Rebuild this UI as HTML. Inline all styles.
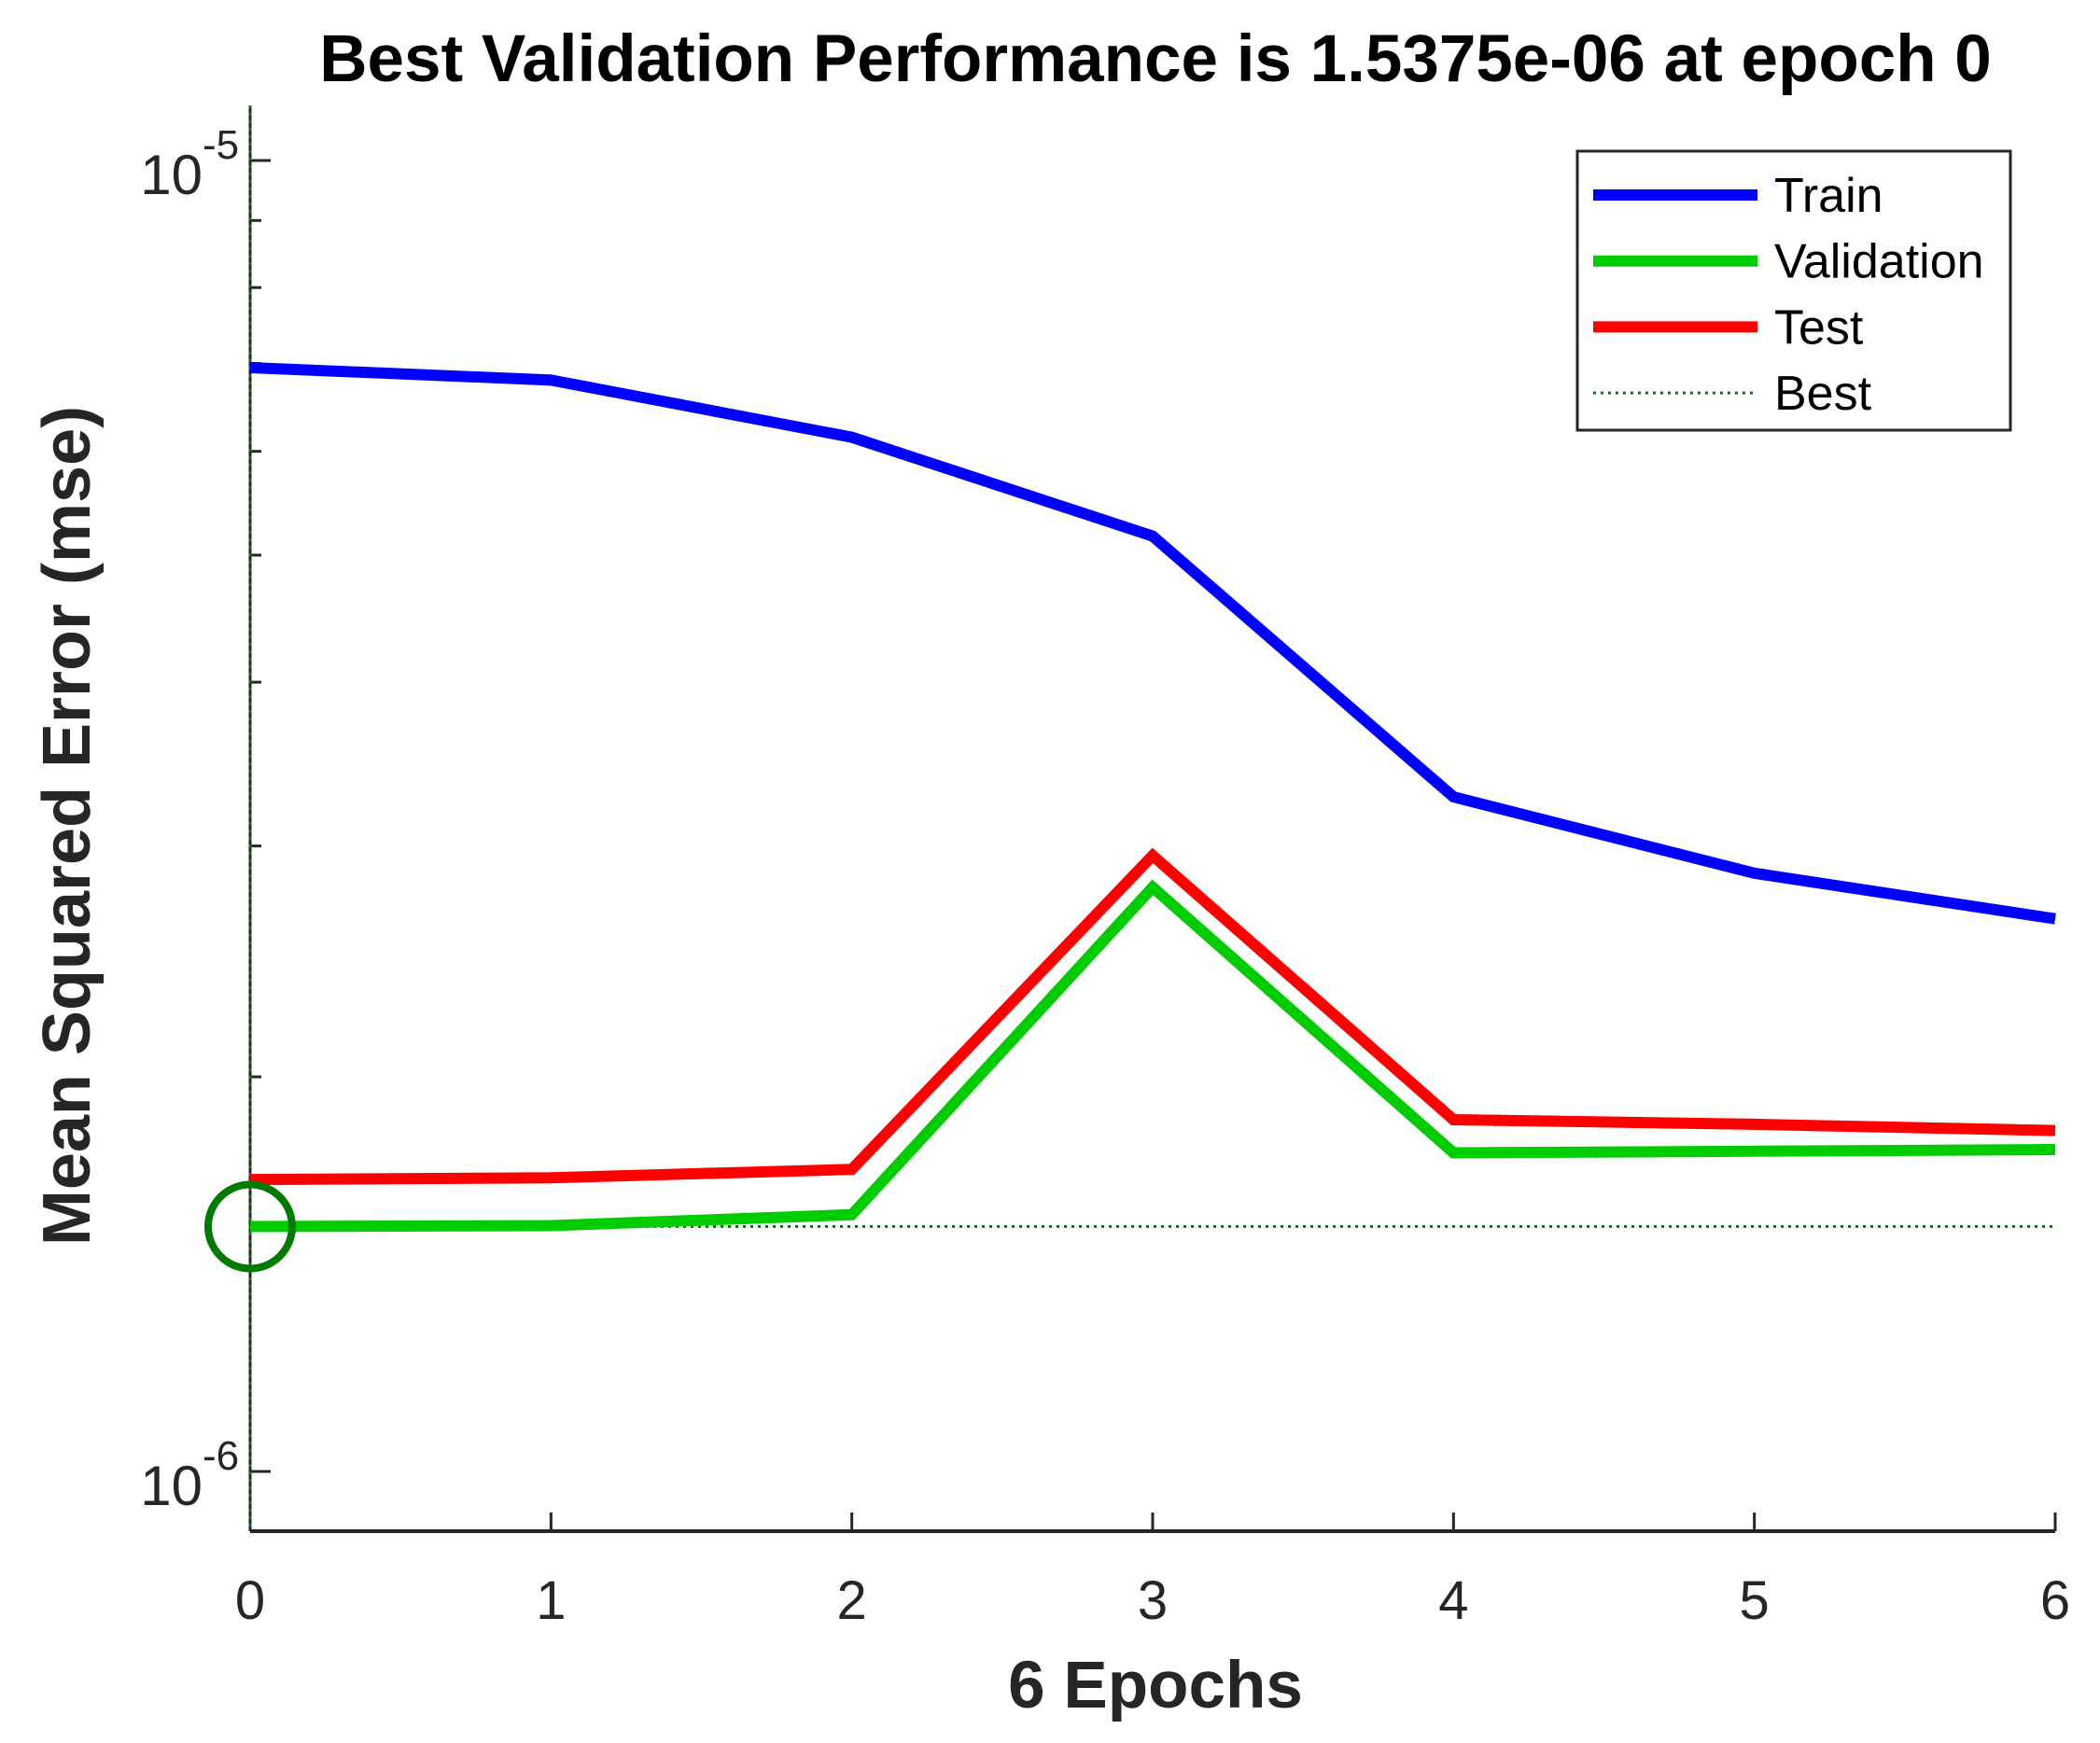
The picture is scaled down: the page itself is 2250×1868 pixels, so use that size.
<!DOCTYPE html>
<html><head><meta charset="utf-8"><style>
html,body{margin:0;padding:0;background:#fff;}
svg{display:block;font-family:"Liberation Sans",Arial,sans-serif;}
</style></head><body>
<svg id="chart" width="2250" height="1868" viewBox="0 0 2250 1868" xmlns="http://www.w3.org/2000/svg">
<rect width="2250" height="1868" fill="#fff"/>
<text x="1238" y="87" text-anchor="middle" font-size="71" font-weight="bold" fill="#000">Best Validation Performance is 1.5375e-06 at epoch 0</text>
<text x="1238" y="1830" text-anchor="middle" font-size="71" font-weight="bold" fill="#262626">6 Epochs</text>
<text transform="translate(96,885) rotate(-90)" text-anchor="middle" font-size="72" font-weight="bold" fill="#262626">Mean Squared Error  (mse)</text>
<g id="plot"></g>
</svg>
<script>
const epochs = [0, 1, 2, 3, 4, 5, 6];
const trainMse = [6.95e-6, 6.8e-6, 6.15e-6, 5.17e-6, 3.27e-6, 2.86e-6, 2.64e-6];
const validationMse = [1.5375e-6, 1.54e-6, 1.57e-6, 2.79e-6, 1.75e-6, 1.755e-6, 1.76e-6];
const testMse = [1.67e-6, 1.675e-6, 1.70e-6, 2.95e-6, 1.855e-6, 1.84e-6, 1.82e-6];
const bestEpoch = 0;
const bestValue = 1.5375e-6;
const xTickLabels = ["0","1","2","3","4","5","6"];
const yDecades = [-6, -5];

const NS = "http://www.w3.org/2000/svg";
const X0 = 268, X1 = 2202, YTOP = 113, YBOT = 1641;
const xMin = 0, xMax = 6;
const Y5 = 172, DEC = 1405;
function xs(v){ return X0 + (v - xMin) / (xMax - xMin) * (X1 - X0); }
function ys(v){ return Y5 + (-5 - Math.log10(v)) * DEC; }
const plot = document.getElementById('plot');
function mk(tag, attrs, parent){
  const e = document.createElementNS(NS, tag);
  for (const k in attrs) e.setAttribute(k, attrs[k]);
  (parent || plot).appendChild(e);
  return e;
}
const axisColor = "#262626";
let e = mk('line', {x1:X0, y1:YTOP, x2:X0, y2:YBOT, stroke:axisColor, 'stroke-width':3});


e = mk('line', {x1:X0, y1:YBOT, x2:X1, y2:YBOT, stroke:axisColor, 'stroke-width':4});


epochs.forEach((v, i) => {
  const x = xs(v);
  const t = mk('line', {x1:x, y1:YBOT, x2:x, y2:YBOT-20, stroke:axisColor, 'stroke-width':3});
  
  
  const l = mk('text', {x:x, y:1735, 'text-anchor':'middle', 'font-size':58, fill:axisColor});
  l.textContent = xTickLabels[i];
  
  
});
for (let m = 1; m <= 9; m++) {
  const v = m * 1e-6;
  const y = ys(v);
  if (y < YTOP || y > YBOT) continue;
  const t = mk('line', {x1:X0, y1:y, x2:X0 + (m === 1 ? 22 : 12), y2:y, stroke:axisColor, 'stroke-width':3});
  
  
}
{
  const y = ys(1e-5);
  const t = mk('line', {x1:X0, y1:y, x2:X0 + 22, y2:y, stroke:axisColor, 'stroke-width':3});
  
  
}
yDecades.forEach(d => {
  const y = ys(Math.pow(10, d));
  const l = mk('text', {x:217, y:y + 36, 'text-anchor':'end', 'font-size':60, fill:axisColor});
  l.textContent = "10";
  
  
  const s = mk('text', {x:217, y:y - 2, 'text-anchor':'start', 'font-size':44, fill:axisColor});
  s.textContent = String(d);
  
  
});
e = mk('line', {x1:X0, y1:ys(bestValue), x2:X1, y2:ys(bestValue), stroke:'#008000', 'stroke-width':3, 'stroke-dasharray':'3 5'});


e = mk('line', {x1:xs(bestEpoch), y1:YTOP, x2:xs(bestEpoch), y2:YBOT, stroke:'#008000', 'stroke-width':3, 'stroke-dasharray':'3 5'});


function series(vals, color, name){
  const pts = vals.map((v, i) => xs(epochs[i]) + ',' + ys(v)).join(' ');
  const p = mk('polyline', {points:pts, fill:'none', stroke:color, 'stroke-width':12, 'stroke-linejoin':'miter'});
  
  
}
series(trainMse, '#0000ff', 'train-line');
series(testMse, '#ff0000', 'test-line');
series(validationMse, '#00cc00', 'validation-line');
e = mk('circle', {cx:xs(bestEpoch), cy:ys(bestValue), r:45, fill:'none', stroke:'#007a00', 'stroke-width':8});


const lg = mk('g', {});


mk('rect', {x:1690, y:162, width:464, height:299, fill:'#fff', stroke:'#262626', 'stroke-width':3}, lg);
const legendNames = ['Train','Validation','Test','Best'];
const legendColors = ['#0000ff','#00cc00','#ff0000','#008000'];
legendNames.forEach((n, i) => {
  const y = 209 + i * 70.7;
  const ln = mk('line', {x1:1707, y1:y, x2:1883, y2:y, stroke:legendColors[i], 'stroke-width': i === 3 ? 3 : 12}, lg);
  if (i === 3) ln.setAttribute('stroke-dasharray', '3 5');
  
  
  const t = mk('text', {x:1901, y:y + 18, 'font-size':52, fill:'#000'}, lg);
  t.textContent = n;
  
  
});
</script>
</body></html>
